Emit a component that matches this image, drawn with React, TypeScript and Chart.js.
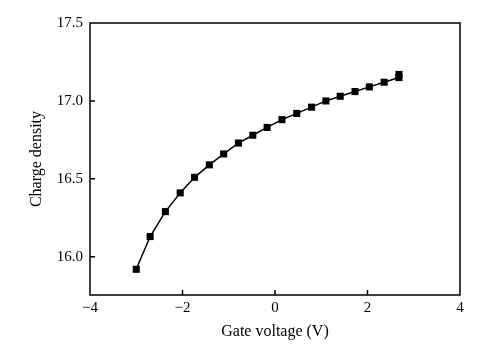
import { useEffect, useRef } from "react";
import { Chart, registerables } from "chart.js";

Chart.register(...registerables);

const GATE_VOLTAGE = [-3.0, -2.7, -2.37, -2.05, -1.74, -1.42, -1.11, -0.79, -0.48, -0.17, 0.15, 0.47, 0.79, 1.1, 1.41, 1.73, 2.04, 2.36, 2.68, 2.68];
const CHARGE_DENSITY = [15.92, 16.13, 16.29, 16.41, 16.51, 16.59, 16.66, 16.73, 16.78, 16.83, 16.88, 16.92, 16.96, 17.0, 17.03, 17.06, 17.09, 17.12, 17.15, 17.17];
const X_TICKS = [-4, -2, 0, 2, 4];
const Y_TICKS = [16.0, 16.5, 17.0, 17.5];
const X_MIN = -4;
const X_MAX = 4;
const Y_MIN = 15.755;
const Y_MAX = 17.5;
const X_TITLE = "Gate voltage (V)";
const Y_TITLE = "Charge density";

const FONT_FAMILY = '"Liberation Serif", "Times New Roman", serif';

const framePlugin = {
  id: "frame",
  beforeDraw(chart: any) {
    const ctx = chart.ctx;
    ctx.save();
    ctx.fillStyle = "#ffffff";
    ctx.fillRect(0, 0, chart.width, chart.height);
    ctx.restore();
  },
  afterDraw(chart: any) {
    const ctx = chart.ctx;
    const { left, top, right, bottom } = chart.chartArea;
    const xs = chart.scales.x;
    const ys = chart.scales.y;
    ctx.save();
    ctx.strokeStyle = "#000";
    ctx.lineWidth = 1.5;
    ctx.strokeRect(left, top, right - left, bottom - top);
    ctx.beginPath();
    X_TICKS.forEach((v) => {
      if (v <= X_MIN || v >= X_MAX) return;
      const px = xs.getPixelForValue(v);
      ctx.moveTo(px, bottom);
      ctx.lineTo(px, bottom - 5);
    });
    Y_TICKS.forEach((v) => {
      if (v <= Y_MIN || v >= Y_MAX) return;
      const py = ys.getPixelForValue(v);
      ctx.moveTo(left, py);
      ctx.lineTo(left + 5, py);
    });
    ctx.stroke();
    ctx.restore();
  },
};

export default function App() {
  const ref = useRef<HTMLCanvasElement | null>(null);

  useEffect(() => {
    if (!ref.current) return;
    const data = GATE_VOLTAGE.map((x, i) => ({ x, y: CHARGE_DENSITY[i] }));
    const chart = new Chart(ref.current, {
      type: "line",
      data: {
        datasets: [
          {
            data,
            borderColor: "#000",
            backgroundColor: "#000",
            borderWidth: 1.5,
            pointStyle: "rect",
            pointRadius: 5,
            pointBorderWidth: 0,
            pointBackgroundColor: "#000",
            tension: 0,
            fill: false,
          },
        ],
      },
      options: {
        responsive: false,
        animation: false,
        devicePixelRatio: 1,
        layout: { padding: { left: 23, right: 36, top: 23, bottom: 7 } },
        plugins: { legend: { display: false }, tooltip: { enabled: false } },
        scales: {
          x: {
            type: "linear",
            min: X_MIN,
            max: X_MAX,
            afterBuildTicks: (s: any) => {
              s.ticks = X_TICKS.map((v) => ({ value: v }));
            },
            afterFit: (s: any) => {
              s.height = 50;
            },
            grid: { display: false, drawTicks: false },
            border: { display: false },
            ticks: {
              color: "#000",
              padding: 4,
              font: { family: FONT_FAMILY, size: 15 },
              callback: (v: any) => String(v).replace("-", "\u2212"),
            },
            title: {
              display: true,
              text: X_TITLE,
              color: "#000",
              padding: 4,
              font: { family: FONT_FAMILY, size: 16 },
            },
          },
          y: {
            type: "linear",
            min: Y_MIN,
            max: Y_MAX,
            afterBuildTicks: (s: any) => {
              s.ticks = Y_TICKS.map((v) => ({ value: v }));
            },
            afterFit: (s: any) => {
              s.width = 67;
            },
            grid: { display: false, drawTicks: false },
            border: { display: false },
            ticks: {
              color: "#000",
              padding: 7,
              font: { family: FONT_FAMILY, size: 15 },
              callback: (v: any) => Number(v).toFixed(1),
            },
            title: {
              display: true,
              text: Y_TITLE,
              color: "#000",
              padding: 4,
              font: { family: FONT_FAMILY, size: 16 },
            },
          },
        },
      },
      plugins: [framePlugin],
    });
    return () => chart.destroy();
  }, []);

  return (
    <div style={{ position: "absolute", left: 0, top: 0, width: 496, height: 352 }}>
      <canvas ref={ref} width={496} height={352} style={{ width: 496, height: 352, display: "block" }} />
    </div>
  );
}
